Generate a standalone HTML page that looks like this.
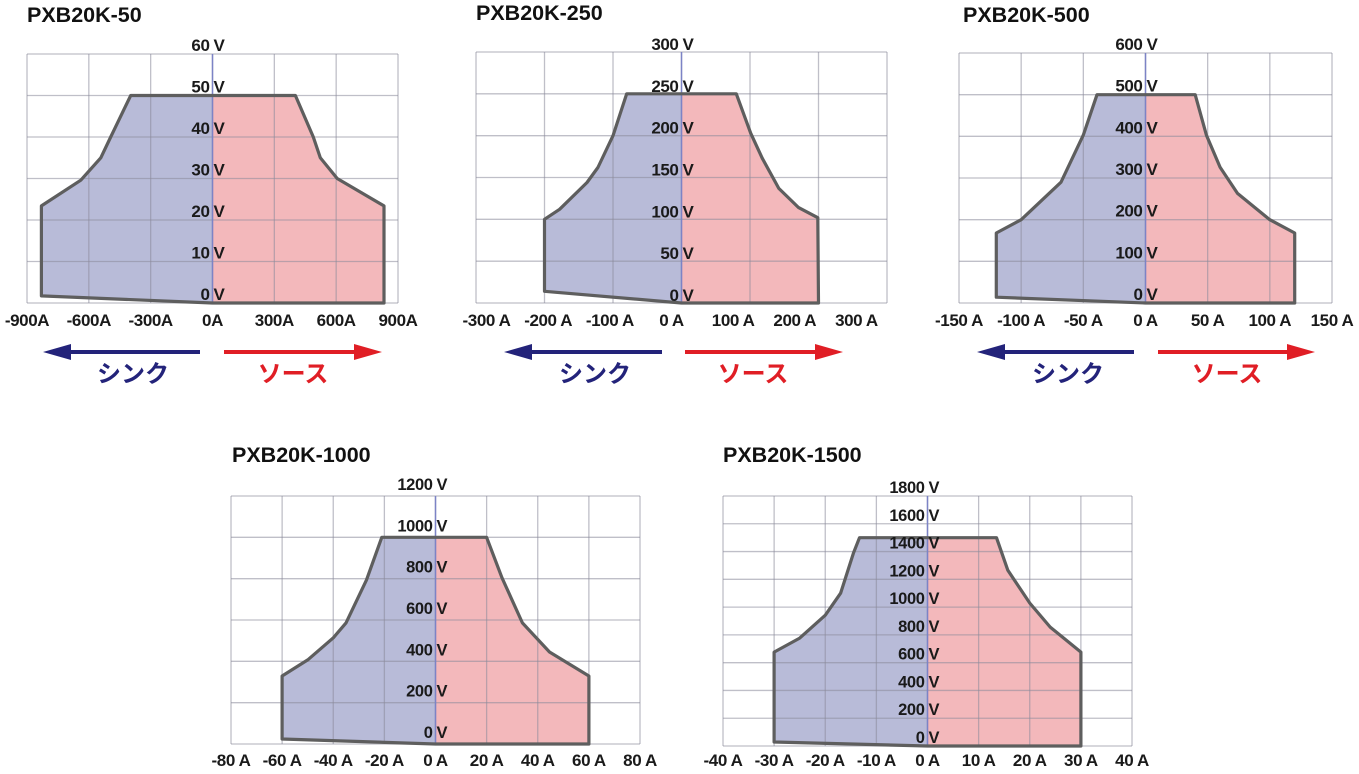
<!DOCTYPE html>
<html><head><meta charset="utf-8">
<style>
html,body{margin:0;padding:0;background:#fff;}
svg{display:block;font-family:"Liberation Sans","Noto Sans CJK JP",sans-serif;}
</style></head>
<body>
<svg id="root" width="1359" height="774" viewBox="0 0 1359 774"></svg>
<script>
// ---------- Chart data ----------
const c1Title = "PXB20K-50";
const c1XTicks = [-900,-600,-300,0,300,600,900];
const c1XLabels = ["-900A","-600A","-300A","0A","300A","600A","900A"];
const c1YTicks = [0,10,20,30,40,50,60];
const c1Current = [-830,-830,-639,-542,-494,-397,402,489,523,605,832,832,0];
const c1Voltage = [1.7,23.4,29.6,35,40,50,50,40,35,30,23.4,0,0];

const c2Title = "PXB20K-250";
const c2XTicks = [-300,-200,-100,0,100,200,300];
const c2XLabels = ["-300 A","-200 A","-100 A","0 A","100 A","200 A","300 A"];
const c2YTicks = [0,50,100,150,200,250,300];
const c2Current = [-200,-200,-178,-138,-122,-100,-80,80,101,118,142,171,199,200,0];
const c2Voltage = [14,100,112,144,162,200,250,250,203,173,137,114,102,0,0];

const c3Title = "PXB20K-500";
const c3XTicks = [-150,-100,-50,0,50,100,150];
const c3XLabels = ["-150 A","-100 A","-50 A","0 A","50 A","100 A","150 A"];
const c3YTicks = [0,100,200,300,400,500,600];
const c3Current = [-120,-120,-100,-68,-50,-39,40,49,60,74,100,120,120,0];
const c3Voltage = [14,168,200,290,403,500,500,403,326,263,200,168,0,0];

const c4Title = "PXB20K-1000";
const c4XTicks = [-80,-60,-40,-20,0,20,40,60,80];
const c4XLabels = ["-80 A","-60 A","-40 A","-20 A","0 A","20 A","40 A","60 A","80 A"];
const c4YTicks = [0,200,400,600,800,1000,1200];
const c4Current = [-60,-60,-50,-40,-35,-27,-21,20,26,34,44.6,60,60,0];
const c4Voltage = [24,329,407,514,586,794,1000,1000,804,586,445,329,0,0];

const c5Title = "PXB20K-1500";
const c5XTicks = [-40,-30,-20,-10,0,10,20,30,40];
const c5XLabels = ["-40 A","-30 A","-20 A","-10 A","0 A","10 A","20 A","30 A","40 A"];
const c5YTicks = [0,200,400,600,800,1000,1200,1400,1600,1800];
const c5Current = [-30,-30,-25,-20,-17,-14.5,-13.3,13.5,15.7,20,24,30,30,0];
const c5Voltage = [29,676,777,942,1100,1388,1500,1500,1266,1029,856,676,0,0];

// ---------- drawing ----------
const NS = "http://www.w3.org/2000/svg";
const root = document.getElementById("root");
function mk(tag, attrs, parent){
  const e = document.createElementNS(NS, tag);
  for (const k in attrs) e.setAttribute(k, attrs[k]);
  (parent||root).appendChild(e);
  return e;
}
let clipId = 0;
function drawChart(L, title, xTicks, xLabels, yTicks, cur, volt, key){
  const g = mk("g", {});
  
  
  const x0v = xTicks[0], x1v = xTicks[xTicks.length-1];
  const y0v = yTicks[0], y1v = yTicks[yTicks.length-1];
  const sx = v => L.left + (v - x0v)/(x1v - x0v)*(L.right - L.left);
  const sy = v => L.bottom - (v - y0v)/(y1v - y0v)*(L.bottom - L.top);
  const zx = sx(0);

  const t = mk("text", {x:L.titleX, y:L.titleY, "font-size":21.5, "font-weight":"bold", fill:"#111"}, g);
  t.textContent = title;
  
  

  mk("rect", {x:L.left, y:L.top, width:L.right-L.left, height:L.bottom-L.top, fill:"#fff"}, g);

  let pts = "";
  for (let i=0;i<cur.length;i++) pts += sx(cur[i]).toFixed(1)+","+sy(volt[i]).toFixed(1)+" ";
  const idL = "clipL"+(clipId++), idR = "clipR"+(clipId++);
  const defs = mk("defs", {}, g);
  const cl = mk("clipPath", {id:idL}, defs);
  mk("rect", {x:0, y:0, width:zx, height:774}, cl);
  const cr = mk("clipPath", {id:idR}, defs);
  mk("rect", {x:zx, y:0, width:1359, height:774}, cr);
  const sink = mk("polygon", {points:pts, fill:"#b8bbd8", "clip-path":"url(#"+idL+")"}, g);
  
  
  const src = mk("polygon", {points:pts, fill:"#f3b8bb", "clip-path":"url(#"+idR+")"}, g);
  
  

  const grid = mk("g", {stroke:"#8a8a9a", "stroke-opacity":"0.55", "stroke-width":1.3}, g);
  
  
  xTicks.forEach(v => { const x = sx(v); mk("line", {x1:x, y1:L.top, x2:x, y2:L.bottom}, grid); });
  yTicks.forEach(v => { const y = sy(v); mk("line", {x1:L.left, y1:y, x2:L.right, y2:y}, grid); });
  mk("line", {x1:zx, y1:L.top, x2:zx, y2:L.bottom, stroke:"#7c83c6", "stroke-width":1.5}, g);

  const outl = mk("polygon", {points:pts, fill:"none", stroke:"#5e5e5e", "stroke-width":3.2, "stroke-linejoin":"round"}, g);
  
  

  yTicks.forEach(v => {
    const y = sy(v) - L.ylabOff;
    const a = mk("text", {x:zx-3, y:y, "font-size":L.yfs, "font-weight":"bold", "text-anchor":"end", fill:"#1a1a1a", "letter-spacing":"-0.4"}, g);
    a.textContent = String(v);
    
    
    const b = mk("text", {x:zx+1, y:y, "font-size":L.yfs, "font-weight":"bold", fill:"#1a1a1a"}, g);
    b.textContent = "V";
    
    
  });
  xTicks.forEach((v,i) => {
    const x = zx + (sx(v)-zx)*L.labK + L.labOff;
    const a = mk("text", {x:x, y:L.xlabY, "font-size":L.xfs, "font-weight":"bold", "text-anchor":"middle", fill:"#1a1a1a", "letter-spacing":"-0.4"}, g);
    a.textContent = xLabels[i];
    
    
  });

  if (L.arrows){
    const A = L.arrows, ay = 352;
    const sg = mk("g", {}, g);
    
    
    mk("line", {x1:A.s1, y1:ay, x2:A.s0+20, y2:ay, stroke:"#23237a", "stroke-width":4}, sg);
    mk("polygon", {points:`${A.s0},${ay} ${A.s0+28},${ay-8} ${A.s0+28},${ay+8}`, fill:"#23237a"}, sg);
    const rg = mk("g", {}, g);
    
    
    mk("line", {x1:A.r0, y1:ay, x2:A.r1-20, y2:ay, stroke:"#e01e25", "stroke-width":4}, rg);
    mk("polygon", {points:`${A.r1},${ay} ${A.r1-28},${ay-8} ${A.r1-28},${ay+8}`, fill:"#e01e25"}, rg);
    const st = mk("text", {x:A.st, y:382, "font-size":24, "font-weight":"bold", "text-anchor":"middle", fill:"#23237a"}, g);
    st.textContent = "シンク";
    
    
    const rt = mk("text", {x:A.rt, y:382, "font-size":24, "font-weight":"bold", "text-anchor":"middle", fill:"#e01e25"}, g);
    rt.textContent = "ソース";
    
    
  }
}

drawChart({left:27,right:398,top:54,bottom:303,titleX:27,titleY:22,xlabY:326,ylabOff:3,yfs:17,xfs:17,labK:1,labOff:0,
  arrows:{s0:43,s1:200,r0:224,r1:382,st:133,rt:293}}, c1Title, c1XTicks, c1XLabels, c1YTicks, c1Current, c1Voltage, "pxb20k-50");
drawChart({left:476,right:887,top:52,bottom:303,titleX:476,titleY:20,xlabY:326,ylabOff:2,yfs:17,xfs:17,labK:0.9,labOff:-10,
  arrows:{s0:504,s1:662,r0:685,r1:843,st:595,rt:753}}, c2Title, c2XTicks, c2XLabels, c2YTicks, c2Current, c2Voltage, "pxb20k-250");
drawChart({left:959,right:1332,top:53,bottom:303,titleX:963,titleY:22,xlabY:326,ylabOff:3,yfs:17,xfs:17,labK:1,labOff:0,
  arrows:{s0:977,s1:1134,r0:1158,r1:1315,st:1068,rt:1227}}, c3Title, c3XTicks, c3XLabels, c3YTicks, c3Current, c3Voltage, "pxb20k-500");
drawChart({left:231,right:640,top:496,bottom:744,titleX:232,titleY:462,xlabY:766,ylabOff:6,yfs:16.5,xfs:17,labK:1,labOff:0,
  arrows:null}, c4Title, c4XTicks, c4XLabels, c4YTicks, c4Current, c4Voltage, "pxb20k-1000");
drawChart({left:723,right:1132,top:496,bottom:746,titleX:723,titleY:462,xlabY:766,ylabOff:3,yfs:16.5,xfs:17,labK:1,labOff:0,
  arrows:null}, c5Title, c5XTicks, c5XLabels, c5YTicks, c5Current, c5Voltage, "pxb20k-1500");
</script>
</body></html>
